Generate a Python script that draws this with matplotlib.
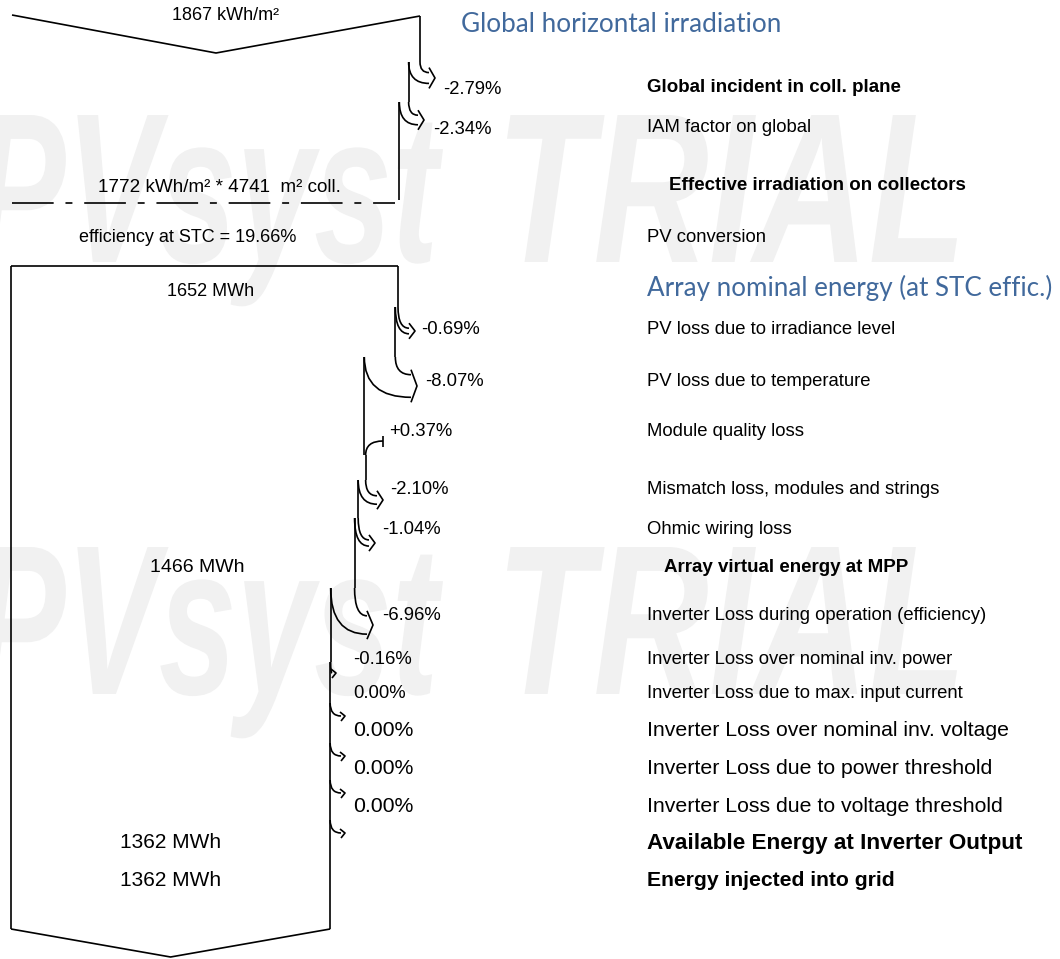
import matplotlib
matplotlib.use("Agg")
from matplotlib import pyplot as plt
from matplotlib.path import Path
from matplotlib.patches import PathPatch
from matplotlib.textpath import TextPath
from matplotlib.font_manager import FontProperties
from matplotlib.transforms import Affine2D

# ---- data ----
ghi = 1867                      # kWh/m2
irr_losses = [-2.79, -2.34]
irr_loss_labels = ["Global incident in coll. plane", "IAM factor on global"]
coll_area = 4741                # m2
stc_eff = 19.66                 # %
nominal_energy = 1652           # MWh
array_losses = [-0.69, -8.07, 0.37, -2.10, -1.04]
array_loss_labels = ["PV loss due to irradiance level", "PV loss due to temperature",
                     "Module quality loss", "Mismatch loss, modules and strings",
                     "Ohmic wiring loss"]
virtual_energy = 1466
inverter_losses = [-6.96, -0.16, 0.00, 0.00, 0.00, 0.00]
inverter_loss_labels = ["Inverter Loss during operation (efficiency)",
                        "Inverter Loss over nominal inv. power",
                        "Inverter Loss due to max. input current",
                        "Inverter Loss over nominal inv. voltage",
                        "Inverter Loss due to power threshold",
                        "Inverter Loss due to voltage threshold"]
available_energy = 1362
injected_energy = 1362

# ---- layout (pixel positions) ----
irr_left, irr_right = 12, 420
box_left, box_right = 11, 398
irr_loss_y = [87, 128]
irr_pct_x = [443, 433]
irr_arrow = [(62, 435, 78), (102, 424, 120)]          # (curve start y, tip x, tip y)
array_loss_y = [329, 381, 432, 490, 530]
array_pct_x = [421, 425, 389, 390, 382]
array_arrow = [(307, 415, 331), (357, 417, 386), (455, 383, 441),
               (480, 383, 500), (518, 375, 543)]
inv_loss_y = [615, 659, 694, 731, 768, 806]
inv_sizes = [13.3, 13.3, 13.3, 15.3, 15.3, 15.3]
inv_pct_x = [382, 353, 353, 353, 353, 353]
inv_arrow = [(588, 373, 625), (662, 336, 673), (703, 345, 716),
             (743, 345, 756), (780, 345, 793), (820, 345, 833)]

BLUE = "#41699c"
SMALL = 13.3
plt.rcParams["font.family"] = ["Liberation Sans", "DejaVu Sans"]
plt.rcParams["lines.scale_dashes"] = False

fig = plt.figure(figsize=(10.6, 9.59), dpi=100)
ax = fig.add_axes([0, 0, 1, 1])
ax.set_xlim(0, 1060)
ax.set_ylim(959, 0)
ax.axis("off")

# watermark, each word stretched to its box
fp = FontProperties(family="Liberation Sans", weight="bold", style="italic")
cap = TextPath((0, 0), "T", size=100, prop=fp).get_extents().height
sy = 147 / cap
for word, x_a, x_b in [("PVsyst", -25, 443), ("TRIAL", 507, 957)]:
    tp = TextPath((0, 0), word, size=100, prop=fp)
    ext = tp.get_extents()
    sx = (x_b - x_a) / ext.width
    for base in [262, 694]:
        tr = Affine2D().translate(-ext.x0, 0).scale(sx, -sy).translate(x_a, base)
        ax.add_patch(PathPatch(tr.transform_path(tp), fc="#f1f1f1", ec="none", zorder=0))

LW = 1.2


def seg(xs, ys):
    ax.plot(xs, ys, color="black", lw=LW, solid_capstyle="butt")


def curve(p0, p1, p2):
    path = Path([p0, p1, p2], [Path.MOVETO, Path.CURVE3, Path.CURVE3])
    ax.add_patch(PathPatch(path, fc="none", ec="black", lw=LW))


def loss_arrow(xo, xn, ys, xt, yt):
    w = xo - xn
    if w < 0:
        # gain: arrow enters the flow
        curve((xt, yt), (xn, yt), (xn, ys))
        seg([xt, xt], [yt - 5, yt + 6])
        return
    if w < 1:
        curve((xo, ys), (xo, yt), (xt - 4, yt))
        seg([xt - 5, xt, xt - 4], [yt - 4, yt, yt + 5])
        return
    hb = 0.3 * w + 2
    curve((xo, ys), (xo, yt - hb), (xt - 6, yt - hb))
    curve((xn, ys), (xn, yt + hb), (xt - 6, yt + hb))
    seg([xt - 6, xt, xt - 6], [yt - hb - 5, yt, yt + hb + 5])


def pct(p):
    return "0.00%" if p == 0 else f"{p:+.2f}%"


# ---- irradiation part ----
irr_scale = (irr_right - irr_left) / ghi
irr_vals = [ghi]
for p in irr_losses:
    irr_vals.append(irr_vals[-1] * (1 + p / 100))
irr_x = [irr_left + v * irr_scale for v in irr_vals]

seg([irr_left, (irr_left + irr_right) / 2, irr_right], [15, 53, 16])
ax.text(226, 15, f"{ghi} kWh/m²", fontsize=13, ha="center", va="center")
ax.text(461, 24, "Global horizontal irradiation", fontsize=18.8, color=BLUE, family="Lato", va="center")

y_prev = 16
for i, p in enumerate(irr_losses):
    ys, xt, yt = irr_arrow[i]
    seg([irr_x[i], irr_x[i]], [y_prev, ys])
    loss_arrow(irr_x[i], irr_x[i + 1], ys, xt, yt)
    ax.text(irr_pct_x[i], irr_loss_y[i] + 2, pct(p), fontsize=SMALL, va="center")
    y_prev = ys
seg([irr_x[-1], irr_x[-1]], [y_prev, 200])
ax.text(647, irr_loss_y[0], irr_loss_labels[0], fontsize=13.5, weight="bold", va="center")
ax.text(647, irr_loss_y[1], irr_loss_labels[1], fontsize=SMALL, va="center")

ax.plot([irr_left, irr_x[-1] - 4], [203, 203], color="black", lw=LW,
        linestyle=(0, (30, 8.5, 5, 8.5)))
ax.text(219, 188, f"{irr_vals[-1]:.0f} kWh/m² * {coll_area}  m² coll.", fontsize=13.6, ha="center", va="center")
ax.text(669, 185, "Effective irradiation on collectors", fontsize=13.5, weight="bold", va="center")
ax.text(188, 238, f"efficiency at STC = {stc_eff:.2f}%", fontsize=13, ha="center", va="center")
ax.text(647, 237, "PV conversion", fontsize=SMALL, va="center")

# ---- energy part ----
e_scale = (box_right - box_left) / nominal_energy
e_vals = [nominal_energy]
for p in array_losses + inverter_losses:
    e_vals.append(e_vals[-1] * (1 + p / 100))
e_x = [box_left + v * e_scale for v in e_vals]

seg([box_left, box_right], [266, 266])
ax.text(211, 291, f"{nominal_energy} MWh", fontsize=13, ha="center", va="center")
ax.text(647, 288, "Array nominal energy (at STC effic.)", fontsize=18.7, color=BLUE, family="Lato", va="center")

arrows = array_arrow + inv_arrow
losses = array_losses + inverter_losses
y_prev = 266
for i, p in enumerate(losses):
    ys, xt, yt = arrows[i]
    seg([e_x[i], e_x[i]], [y_prev, ys])
    loss_arrow(e_x[i], e_x[i + 1], ys, xt, yt)
    y_prev = ys
seg([e_x[-1], e_x[-1]], [y_prev, 929])

for i, p in enumerate(array_losses):
    ax.text(array_pct_x[i], array_loss_y[i], pct(p), fontsize=SMALL, va="center")
    ax.text(647, array_loss_y[i], array_loss_labels[i], fontsize=SMALL, va="center")

ax.text(197, 568, f"{virtual_energy} MWh", fontsize=14, ha="center", va="center")
ax.text(664, 568, "Array virtual energy at MPP", fontsize=13.5, weight="bold", va="center")

for i, p in enumerate(inverter_losses):
    ax.text(inv_pct_x[i], inv_loss_y[i], pct(p), fontsize=inv_sizes[i], va="center")
    ax.text(647, inv_loss_y[i], inverter_loss_labels[i], fontsize=inv_sizes[i], va="center")

ax.text(171, 843, f"{available_energy} MWh", fontsize=15, ha="center", va="center")
ax.text(647, 843, "Available Energy at Inverter Output", fontsize=16.2, weight="bold", va="center")
ax.text(171, 881, f"{injected_energy} MWh", fontsize=15, ha="center", va="center")
ax.text(647, 881, "Energy injected into grid", fontsize=15.2, weight="bold", va="center")

# box sides and bottom arrow
seg([box_left, box_left], [266, 929])
seg([box_left, (box_left + e_x[-1]) / 2, e_x[-1]], [929, 957, 929])

fig.savefig("out.png", dpi=100)
